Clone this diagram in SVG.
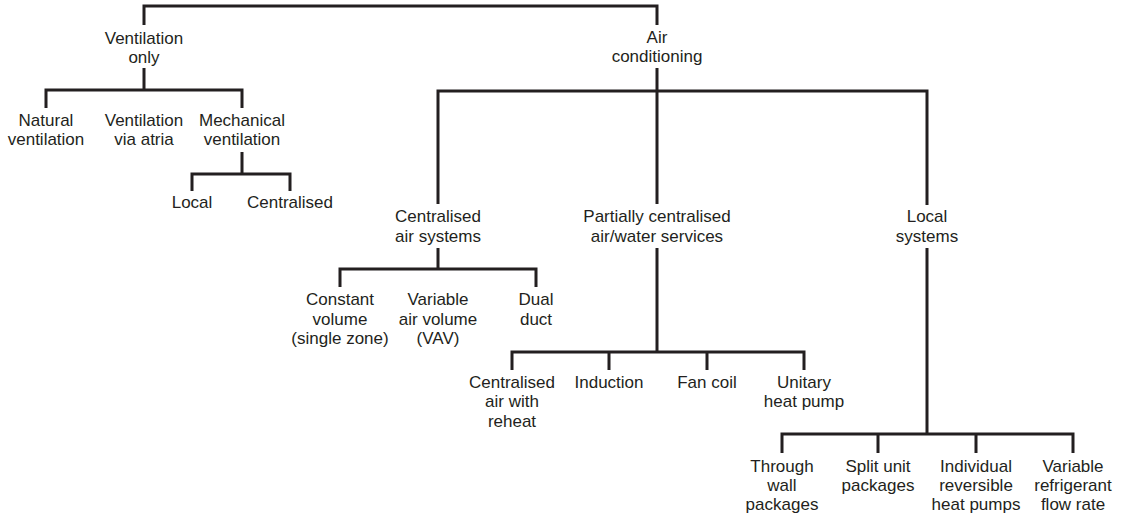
<svg xmlns="http://www.w3.org/2000/svg" width="1125" height="516" viewBox="0 0 1125 516">
<style>
text{font-family:"Liberation Sans",Arial,sans-serif;font-size:17px;fill:#231f20;text-anchor:middle}
.c{fill:none;stroke:#231f20;stroke-width:3;stroke-linejoin:miter;stroke-linecap:butt}
</style>
<rect width="1125" height="516" fill="#fff"/>
<g id="connectors" class="c">
<path d="M144,25V6H657V25"/>
<path d="M144,68V90M46,108V90H242V108"/>
<path d="M242,152V174M192,191V174H290V191"/>
<path d="M657,68V204M438,204V91H927V205"/>
<path d="M438,248V269M340,287V269H536V287"/>
<path d="M657,248V352M512,370V352H804V370M609,352V370M707,352V370"/>
<path d="M927,248V434M782,453V434H1073V453M878,434V453M976,434V453"/>
</g>
<g id="n-vent"><text x="144" y="44">Ventilation</text><text x="144" y="63">only</text></g>
<g id="n-ac"><text x="657" y="43">Air</text><text x="657" y="62">conditioning</text></g>
<g id="n-natural"><text x="46" y="126">Natural</text><text x="46" y="145">ventilation</text></g>
<g id="n-atria"><text x="144" y="126">Ventilation</text><text x="144" y="145">via atria</text></g>
<g id="n-mech"><text x="242" y="126">Mechanical</text><text x="242" y="145">ventilation</text></g>
<g id="n-local"><text x="192" y="208">Local</text></g>
<g id="n-centralised"><text x="290" y="208">Centralised</text></g>
<g id="n-cas"><text x="438" y="222">Centralised</text><text x="438" y="242">air systems</text></g>
<g id="n-pcaws"><text x="657" y="222">Partially centralised</text><text x="657" y="242">air/water services</text></g>
<g id="n-locsys"><text x="927" y="222">Local</text><text x="927" y="242">systems</text></g>
<g id="n-cv"><text x="340" y="305">Constant</text><text x="340" y="325">volume</text><text x="340" y="344">(single zone)</text></g>
<g id="n-vav"><text x="438" y="305">Variable</text><text x="438" y="325">air volume</text><text x="438" y="344">(VAV)</text></g>
<g id="n-dd"><text x="536" y="305">Dual</text><text x="536" y="325">duct</text></g>
<g id="n-car"><text x="512" y="388">Centralised</text><text x="512" y="407">air with</text><text x="512" y="427">reheat</text></g>
<g id="n-ind"><text x="609" y="388">Induction</text></g>
<g id="n-fc"><text x="707" y="388">Fan coil</text></g>
<g id="n-uhp"><text x="804" y="388">Unitary</text><text x="804" y="407">heat pump</text></g>
<g id="n-twp"><text x="782" y="472">Through</text><text x="782" y="491">wall</text><text x="782" y="510">packages</text></g>
<g id="n-sup"><text x="878" y="472">Split unit</text><text x="878" y="491">packages</text></g>
<g id="n-irhp"><text x="976" y="472">Individual</text><text x="976" y="491">reversible</text><text x="976" y="510">heat pumps</text></g>
<g id="n-vrf"><text x="1073" y="472">Variable</text><text x="1073" y="491">refrigerant</text><text x="1073" y="510">flow rate</text></g>
</svg>
